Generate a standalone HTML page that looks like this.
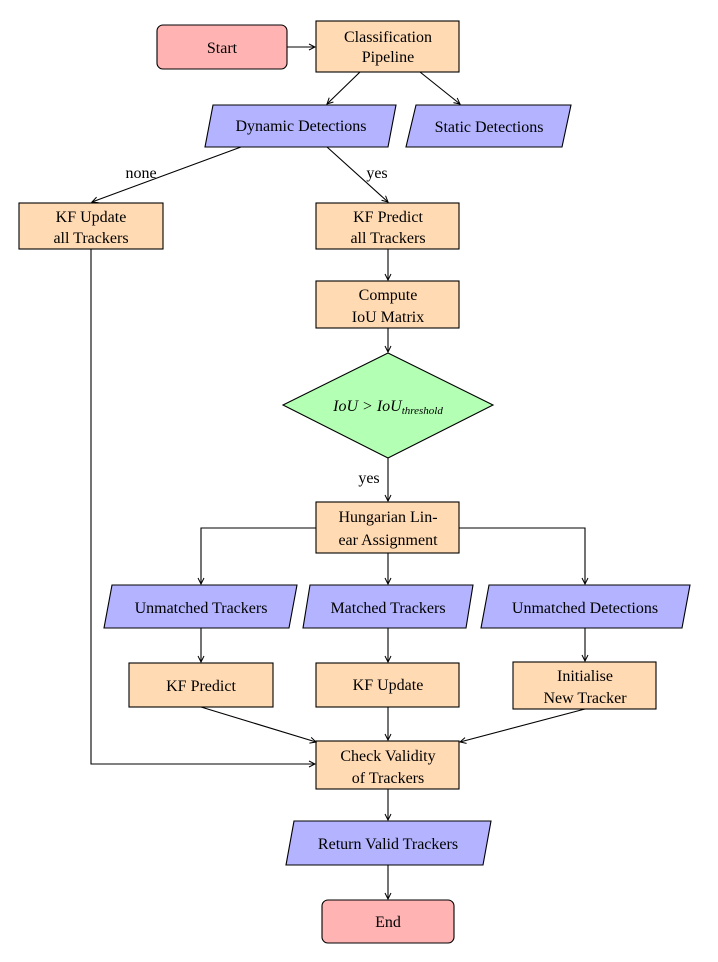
<!DOCTYPE html>
<html><head><meta charset="utf-8"><style>
html,body{margin:0;padding:0;background:#fff}
svg text{font-family:"Liberation Serif",serif;font-size:16px;fill:#000}
</style></head><body>
<svg width="718" height="957" viewBox="0 0 718 957" xmlns="http://www.w3.org/2000/svg">
<defs><marker id="a" markerWidth="8" markerHeight="8" refX="7" refY="4" orient="auto" markerUnits="userSpaceOnUse"><path d="M1,1 L7,4 L1,7" fill="none" stroke="#000" stroke-width="1"/></marker></defs>
<g fill="#ffdab3" stroke="#000" stroke-width="1.1">
<rect x="316" y="21" width="143" height="51"/>
<rect x="19" y="203" width="144" height="46"/>
<rect x="316" y="203" width="143" height="46"/>
<rect x="316" y="281" width="143" height="47"/>
<rect x="316" y="502" width="143" height="51"/>
<rect x="129" y="663" width="144" height="44"/>
<rect x="316" y="663" width="143" height="44"/>
<rect x="513" y="662" width="143" height="47"/>
<rect x="316" y="741" width="143" height="48"/>
</g>
<g fill="#ffb3b3" stroke="#000" stroke-width="1.1">
<rect x="157" y="25" width="130" height="44" rx="6"/>
<rect x="322" y="900" width="132" height="43" rx="6"/>
</g>
<g fill="#b3b3ff" stroke="#000" stroke-width="1.1">
<polygon points="213,105 396,105 388,147 205,147"/>
<polygon points="416,105 571,105 562,147 406,147"/>
<polygon points="112,585 297,585 289,628 104,628"/>
<polygon points="310,585 473,585 466,628 303,628"/>
<polygon points="489,585 690,585 682,628 481,628"/>
<polygon points="294,821 491,821 483,865 286,865"/>
</g>
<polygon points="388,353 493,405 388,458 283,405" fill="#b3ffb3" stroke="#000" stroke-width="1.1"/>
<g stroke="#000" stroke-width="1.1" fill="none" marker-end="url(#a)">
<line x1="287" y1="47" x2="315" y2="47"/>
<line x1="360" y1="72" x2="327" y2="104"/>
<line x1="420" y1="72" x2="460" y2="104"/>
<line x1="241" y1="147" x2="92" y2="202"/>
<line x1="327" y1="147" x2="388" y2="202"/>
<line x1="388" y1="249" x2="388" y2="280"/>
<line x1="388" y1="328" x2="388" y2="352"/>
<line x1="388" y1="458" x2="388" y2="501"/>
<polyline points="316,528 201,528 201,584"/>
<polyline points="459,528 585,528 585,584"/>
<line x1="388" y1="553" x2="388" y2="584"/>
<line x1="201" y1="628" x2="201" y2="662"/>
<line x1="388" y1="628" x2="388" y2="662"/>
<line x1="585" y1="628" x2="585" y2="661"/>
<line x1="201" y1="707" x2="316" y2="742"/>
<line x1="388" y1="707" x2="388" y2="740"/>
<line x1="585" y1="709" x2="460" y2="742"/>
<polyline points="91,249 91,764 315,764"/>
<line x1="388" y1="789" x2="388" y2="820"/>
<line x1="388" y1="865" x2="388" y2="899"/>
</g>
<g text-anchor="middle">
<text x="222" y="53">Start</text>
<text x="388" y="42">Classification</text><text x="388" y="62">Pipeline</text>
<text x="301" y="131">Dynamic Detections</text>
<text x="489" y="132">Static Detections</text>
<text x="141" y="178">none</text>
<text x="377" y="178">yes</text>
<text x="91" y="222">KF Update</text><text x="91" y="243">all Trackers</text>
<text x="388" y="222">KF Predict</text><text x="388" y="243">all Trackers</text>
<text x="388" y="300">Compute</text><text x="388" y="322">IoU Matrix</text>
<text x="388" y="411" font-style="italic">IoU &gt; IoU<tspan font-size="11" dy="3">threshold</tspan></text>
<text x="369" y="483">yes</text>
<text x="388" y="522">Hungarian Lin-</text><text x="388" y="545">ear Assignment</text>
<text x="201" y="613">Unmatched Trackers</text>
<text x="388" y="613">Matched Trackers</text>
<text x="585" y="613">Unmatched Detections</text>
<text x="201" y="691">KF Predict</text>
<text x="388" y="690">KF Update</text>
<text x="585" y="681">Initialise</text><text x="585" y="703">New Tracker</text>
<text x="388" y="761">Check Validity</text><text x="388" y="783">of Trackers</text>
<text x="388" y="849">Return Valid Trackers</text>
<text x="388" y="927">End</text>
</g>
</svg>
</body></html>
